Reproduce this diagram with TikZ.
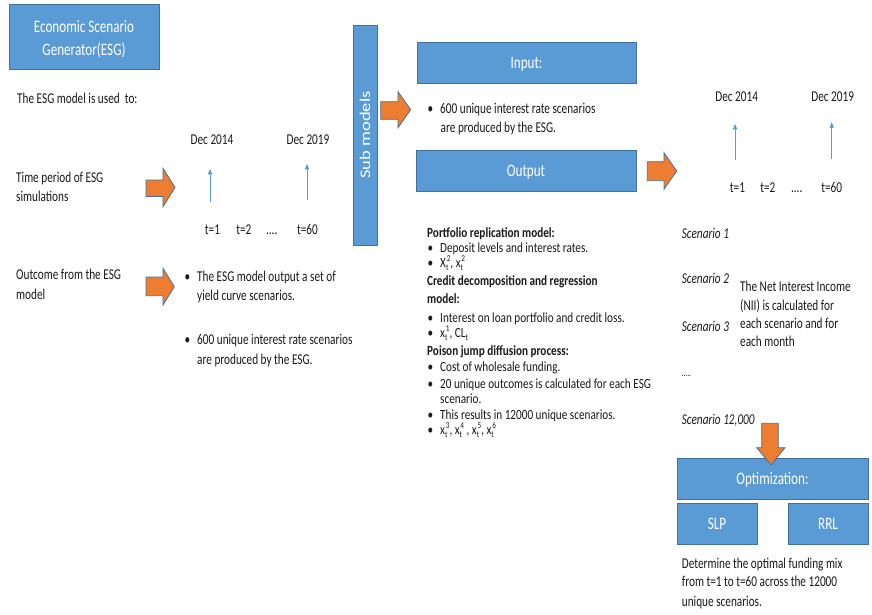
\documentclass[tikz,border=0pt]{standalone}
\usepackage{fontspec}
\setmainfont{Carlito}[FakeStretch=0.75]
\newfontfamily\subfont{Carlito}
\newfontfamily\midfont{Carlito}[FakeStretch=0.8]
\usepackage{graphicx}
\usetikzlibrary{arrows.meta}
\definecolor{boxblue}{HTML}{5B9BD5}
\definecolor{edgeblue}{HTML}{41719C}
\definecolor{arrorange}{HTML}{ED7D31}
\definecolor{txt}{HTML}{1A1A1A}
\newcommand\bul{\makebox[12.5pt][l]{•}}
\newcommand\smallfs{\fontsize{9}{9}\selectfont}
\newcommand\xsup[2]{#1\rlap{\raisebox{-0.55ex}{\smallfs t}}\raisebox{0.85ex}{\smallfs\kern0.8pt #2}}
\newcommand\tsub{\raisebox{-0.55ex}{\smallfs t}}
\begin{document}
\begin{tikzpicture}[x=1pt,y=-1pt,
  bluebox/.style={draw=edgeblue, fill=boxblue, line width=0.8pt, text=white,
    font=\fontsize{17.5}{23}\selectfont, inner sep=0pt, align=center},
  onetext/.style={text height=11.5pt, text depth=0pt},
  body/.style={text=txt, font=\fontsize{15}{17}\selectfont, inner sep=0pt, anchor=base west},
  cbody/.style={body, anchor=base},
  itbody/.style={body, font=\fontsize{15}{17}\selectfont\itshape},
  mbody/.style={body, font=\midfont\fontsize{14}{15}\selectfont},
  bbody/.style={body, font=\midfont\fontsize{14}{15}\selectfont\bfseries},
  blockarrow/.style={draw=edgeblue, fill=arrorange, line width=0.8pt, line join=miter},
  thinarrow/.style={draw=boxblue, line width=1pt, -{Latex[length=6pt,width=5pt]}},
]
\fill[white] (0,0) rectangle (872,615);
\useasboundingbox (0,0) rectangle (872,615);

% ---------- left column ----------
\node[bluebox, minimum width=150pt, minimum height=65pt] (esg) at (84,36.5)
  {\raisebox{-2.5pt}[\height][\depth]{\begin{tabular}{@{}c@{}}Economic Scenario\\Generator(ESG)\end{tabular}}};
\node[body] (used) at (17,104) {The ESG model is used\ \ to:};
\node[body] (time1) at (16,182.3) {Time period of ESG};
\node[body] (time2) at (16,201.7) {simulations};
\node[body] (out1) at (16,279.5) {Outcome from the ESG};
\node[body] (out2) at (16,299.5) {model};

\draw[blockarrow] (146,180) -- (163,180) -- (163,168.3) -- (175,187.5) -- (163,206.7)
  -- (163,196.5) -- (146,196.5) -- cycle;
\draw[blockarrow] (146,277) -- (163,277) -- (163,268.3) -- (174.3,286.7) -- (163,305)
  -- (163,295.7) -- (146,295.7) -- cycle;

\node[cbody] (ld1) at (212,144) {Dec 2014};
\node[cbody] (ld2) at (308,144) {Dec 2019};
\coordinate (la1s) at (210,201.7);
\coordinate (la1e) at (210,168.3);
\coordinate (la2s) at (307,200);
\coordinate (la2e) at (307,163.3);
\draw[thinarrow] (la1s) -- (la1e);
\draw[thinarrow] (la2s) -- (la2e);
\node[cbody] (lt1) at (212.5,234.5) {t=1};
\node[cbody] (lt2) at (243.8,234.5) {t=2};
\node[cbody] (ltd) at (271.7,234.5) {....};
\node[cbody] (lt60) at (307.5,234.5) {t=60};

\node[body] (lb1) at (184.5,281) {\bul The ESG model output a set of};
\node[body] (lb1b) at (197,300.5) {yield curve scenarios.};
\node[body] (lb2) at (184.5,344.3) {\bul 600 unique interest rate scenarios};
\node[body] (lb2b) at (197,364) {are produced by the ESG.};

% ---------- sub models ----------
\node[bluebox, rotate=90, minimum width=220pt, minimum height=24pt] (sub) at (365,135)
  {\scalebox{1}[0.8]{\subfont\fontsize{18.5}{20}\selectfont Sub models}};
\draw[blockarrow] (380.7,101.7) -- (398,101.7) -- (398,91.7) -- (410.7,109.7) -- (398,127.7)
  -- (398,119.3) -- (380.7,119.3) -- cycle;

% ---------- middle column ----------
\node[bluebox, onetext, minimum width=219pt, minimum height=41pt] (input) at (526.5,62.5) {Input:};
\node[body] (ib1) at (427.5,113.3) {\bul 600 unique interest rate scenarios};
\node[body] (ib1b) at (440.5,132.7) {are produced by the ESG.};
\node[bluebox, onetext, minimum width=220pt, minimum height=41pt] (output) at (526,170.5) {Output};

\node[bbody] (m1) at (427,237.3) {Portfolio replication model:};
\node[mbody] (m2) at (427.5,252.3) {\bul Deposit levels and interest rates.};
\node[mbody] (m3) at (427.5,267) {\bul \xsup{X}{2}, \xsup{x}{2}};
\node[bbody] (m4) at (427,285) {Credit decomposition and regression};
\node[bbody] (m5) at (427,303.3) {model:};
\node[mbody] (m6) at (427.5,322.3) {\bul Interest on loan portfolio and credit loss.};
\node[mbody] (m7) at (427.5,337.3) {\bul \xsup{x}{1}, CL\tsub};
\node[bbody] (m8) at (427,355.7) {Poison jump diffusion process:};
\node[mbody] (m9) at (427.5,371) {\bul Cost of wholesale funding.};
\node[mbody] (m10) at (427.5,388.3) {\bul 20 unique outcomes is calculated for each ESG};
\node[mbody] (m11) at (440,403.3) {scenario.};
\node[mbody] (m12) at (427.5,419) {\bul This results in 12000 unique scenarios.};
\node[mbody] (m13) at (427.5,434) {\bul \xsup{x}{3}, \xsup{x}{4} , \xsup{x}{5}, \xsup{x}{6}};

\draw[blockarrow] (647.3,161.7) -- (664,161.7) -- (664,152.7) -- (676.7,171) -- (664,189.3)
  -- (664,180.7) -- (647.3,180.7) -- cycle;

% ---------- right column ----------
\node[cbody] (rd1) at (736.7,101.7) {Dec 2014};
\node[cbody] (rd2) at (832.7,101.7) {Dec 2019};
\coordinate (ra1s) at (735,160);
\coordinate (ra1e) at (735,123.3);
\coordinate (ra2s) at (831.7,159);
\coordinate (ra2e) at (831.7,121.7);
\draw[thinarrow] (ra1s) -- (ra1e);
\draw[thinarrow] (ra2s) -- (ra2e);
\node[cbody] (rt1) at (737.5,192.7) {t=1};
\node[cbody] (rt2) at (767.8,192.7) {t=2};
\node[cbody] (rtd) at (796.7,192.7) {....};
\node[cbody] (rt60) at (831.7,192.7) {t=60};

\node[itbody] (s1) at (681.7,238.3) {Scenario 1};
\node[itbody] (s2) at (681.7,283.3) {Scenario 2};
\node[itbody] (s3) at (681.7,331.7) {Scenario 3};
\node[itbody] (sd) at (681.7,376) {\fontsize{10}{10}\selectfont .....};
\node[itbody] (s4) at (681.7,424) {Scenario 12,000};

\node[body] (n1) at (740,291.7) {The Net Interest Income};
\node[body] (n2) at (740,310) {(NII) is calculated for};
\node[body] (n3) at (740,328.3) {each scenario and for};
\node[body] (n4) at (740,346.7) {each month};

\node[bluebox, onetext, minimum width=191pt, minimum height=41pt] (opt) at (772.5,478.5) {Optimization:};
\node[bluebox, onetext, minimum width=80pt, minimum height=41pt] (slp) at (717,523.5) {SLP};
\node[bluebox, onetext, minimum width=80pt, minimum height=41pt] (rrl) at (828,523.5) {RRL};

\draw[blockarrow] (761.7,423.3) -- (778.3,423.3) -- (778.3,447.7) -- (785,447.7) -- (771,465)
  -- (756.7,447.7) -- (761.7,447.7) -- cycle;

\node[body] (f1) at (681.7,568.3) {Determine the optimal funding mix};
\node[body] (f2) at (681.7,586.7) {from t=1 to t=60 across the 12000};
\node[body] (f3) at (681.7,606) {unique scenarios.};
\end{tikzpicture}
\end{document}
